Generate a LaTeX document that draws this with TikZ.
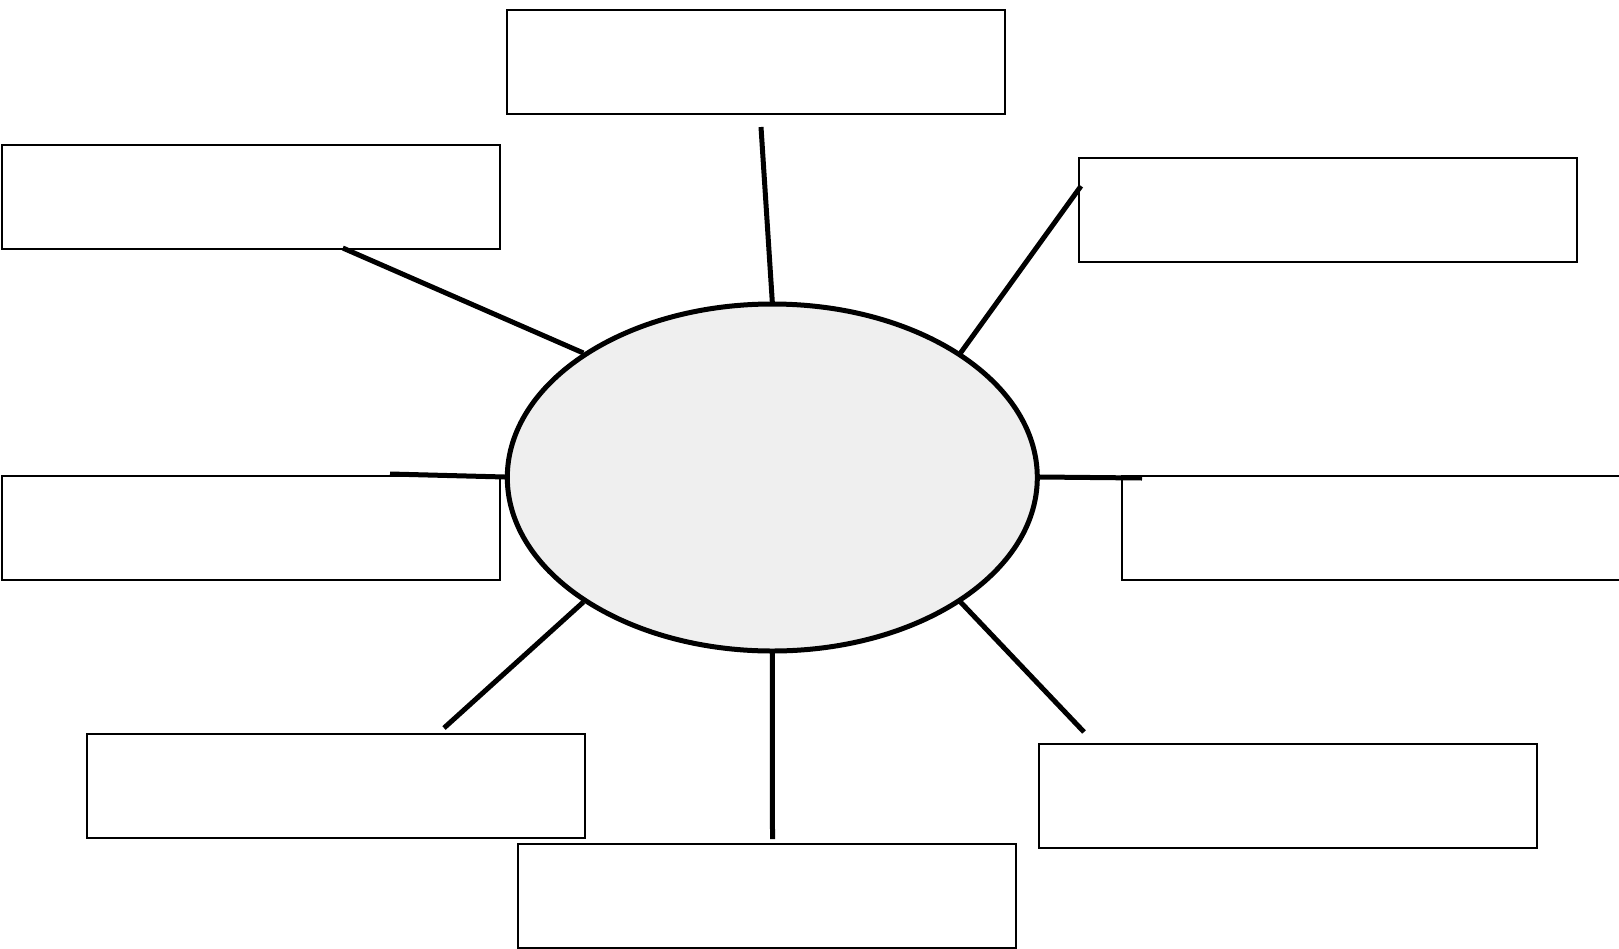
\documentclass[tikz,border=0pt]{standalone}
\usetikzlibrary{shapes.geometric}
\definecolor{ellfill}{HTML}{EFEFEF}
\begin{document}
\begin{tikzpicture}[x=1pt,y=-1pt,
  box/.style={draw=black,line width=2pt,fill=white,rectangle,inner sep=0pt,
    minimum width=498pt,minimum height=104pt,anchor=north west},
  spoke/.style={draw=black,line width=5pt},
  hub/.style={draw=black,line width=5pt,fill=ellfill,ellipse,inner sep=0pt,
    minimum width=530pt,minimum height=347pt}]
\useasboundingbox (0,0) rectangle (1619,948);
\node[box] (btop) at (506,8.5) {};
\node[box] (btl) at (0.8,143.5) {};
\node[box] (btr) at (1077.5,157) {};
\node[box] (bml) at (0.8,475) {};
\node[box] (bmr) at (1121,475) {};
\node[box] (bbl) at (85.7,733) {};
\node[box] (bbr) at (1037.7,742.5) {};
\node[box] (bbot) at (517,843) {};
\node[hub] (hub) at (772.3,477.5) {};
% spoke ends
\coordinate (ctop) at (761,127);
\coordinate (ctl) at (342.8,248);
\coordinate (ctr) at (1081,186);
\coordinate (cml) at (390,474);
\coordinate (cmr) at (1142,478);
\coordinate (cbl) at (444,728);
\coordinate (cbot) at (772.5,839);
\coordinate (cbr) at (1084,732);
\coordinate (htop) at (772.3,302);
\coordinate (htl) at (583.4,353);
\coordinate (htr) at (960.5,353);
\coordinate (hml) at (505,477);
\coordinate (hmr) at (1040,477);
\coordinate (hbl) at (583.4,602);
\coordinate (hbot) at (772.3,652);
\coordinate (hbr) at (960.5,602);
\draw[spoke] (ctop) -- (htop);
\draw[spoke] (ctl) -- (htl);
\draw[spoke] (ctr) -- (htr);
\draw[spoke] (cml) -- (hml);
\draw[spoke] (hmr) -- (cmr);
\draw[spoke] (cbl) -- (hbl);
\draw[spoke] (hbot) -- (cbot);
\draw[spoke] (hbr) -- (cbr);
\end{tikzpicture}
\end{document}
